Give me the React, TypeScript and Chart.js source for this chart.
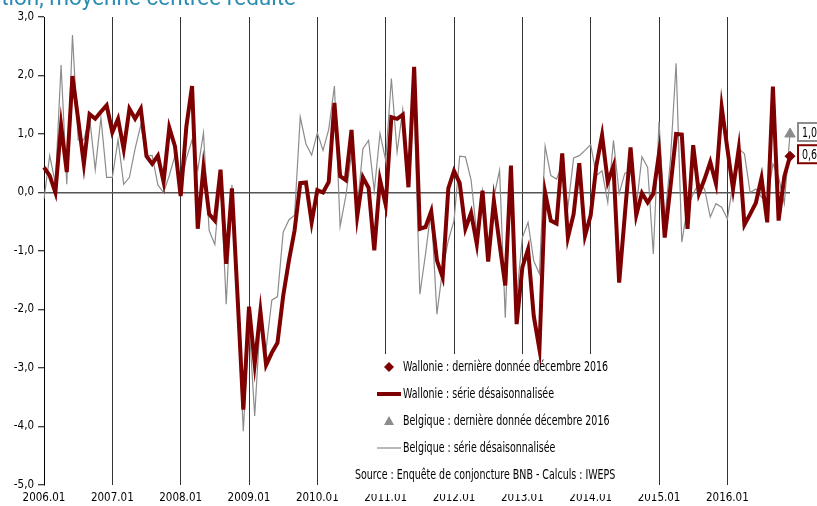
import React, { useEffect, useRef } from 'react';
import { Chart, registerables } from 'chart.js';

Chart.register(...registerables);

const YEARS = [2006, 2007, 2008, 2009, 2010, 2011, 2012, 2013, 2014, 2015, 2016];
const MONTHS = ['01', '02', '03', '04', '05', '06', '07', '08', '09', '10', '11', '12'];
const categories: string[] = YEARS.flatMap((y) => MONTHS.map((m) => `${y}.${m}`));

// Wallonie : série désaisonnalisée
const wallonie = [
  0.43, 0.29, 0.0, 1.15, 0.35, 1.99, 1.25, 0.49, 1.34, 1.26, 1.38, 1.49,
  1.03, 1.26, 0.74, 1.43, 1.26, 1.43, 0.62, 0.49, 0.63, 0.18, 1.11, 0.79,
  -0.06, 1.13, 1.82, -0.62, 0.42, -0.37, -0.48, 0.39, -1.22, 0.07, -1.8, -3.71,
  -1.95, -2.93, -2.03, -2.95, -2.74, -2.57, -1.77, -1.17, -0.65, 0.16, 0.17, -0.51,
  0.04, 0.0, 0.18, 1.53, 0.28, 0.21, 1.07, -0.41, 0.26, 0.08, -0.99, 0.22,
  -0.21, 1.29, 1.26, 1.33, 0.09, 2.15, -0.62, -0.59, -0.32, -1.16, -1.45, 0.07,
  0.37, 0.16, -0.62, -0.35, -0.88, 0.03, -1.18, -0.14, -0.88, -1.59, 0.46, -2.25,
  -1.28, -0.97, -2.11, -2.68, 0.0, -0.48, -0.53, 0.67, -0.77, -0.37, 0.5, -0.74,
  -0.39, 0.46, 0.98, 0.18, 0.45, -1.54, -0.38, 0.77, -0.39, -0.01, -0.17, -0.02,
  0.67, -0.77, 0.09, 1.0, 0.99, -0.62, 0.81, -0.02, 0.23, 0.52, 0.15, 1.46,
  0.75, 0.06, 0.75, -0.55, -0.37, -0.18, 0.25, -0.51, 1.81, -0.48, 0.27, 0.62,
];

// Belgique : série désaisonnalisée
const belgique = [
  -0.11, 0.63, 0.15, 2.18, 0.14, 2.69, 0.9, 0.9, 1.29, 0.39, 1.28, 0.26,
  0.26, 0.9, 0.14, 0.26, 0.75, 1.15, 0.63, 0.63, 0.13, 0.0, 0.29, 0.63,
  0.13, 0.58, 0.9, 0.38, 1.02, -0.65, -0.89, 0.22, -1.91, 0.13, -2.0, -4.08,
  -2.22, -3.82, -2.14, -2.68, -1.84, -1.78, -0.68, -0.47, -0.39, 1.29, 0.83, 0.64,
  1.02, 0.72, 1.08, 1.82, -0.58, -0.06, 0.66, -0.28, 0.75, 0.89, 0.03, 1.01,
  0.55, 1.95, 0.69, 1.42, 0.33, 1.47, -1.74, -1.05, -0.28, -2.08, -1.31, -0.82,
  -0.48, 0.62, 0.61, 0.21, -0.71, 0.03, -0.99, -0.08, 0.38, -2.14, 0.43, -1.79,
  -0.77, -0.51, -1.17, -1.39, 0.79, 0.29, 0.23, 0.46, -0.25, 0.59, 0.63, 0.72,
  0.82, 0.29, 0.37, -0.17, 0.89, -0.02, 0.33, 0.35, -0.25, 0.61, 0.43, -1.05,
  1.21, -0.48, 0.55, 2.21, -0.85, -0.25, -0.02, 0.16, 0.06, -0.42, -0.19, -0.25,
  -0.45, 0.15, 0.75, 0.66, 0.0, 0.06, -0.08, -0.14, 0.49, 0.26, -0.19, 1.0,
];

// Dernière donnée décembre 2016
const wallonieLast = 0.62;
const belgiqueLast = 1.0;

const Y_MIN = -5;
const Y_MAX = 3;

const legendLabels = [
  'Wallonie : dernière donnée décembre 2016',
  'Wallonie : série désaisonnalisée',
  'Belgique : dernière donnée décembre 2016',
  'Belgique : série désaisonnalisée',
];
const sourceText = 'Source : Enquête de conjoncture BNB - Calculs : IWEPS';
const titleText = 'production, moyenne centrée réduite';

const RED = '#7f0000';
const GRAY = '#8c8c8c';
const FONT = "'DejaVu Sans Condensed', 'Liberation Sans', sans-serif";

const fmt = (v: number) => v.toFixed(1).replace('.', ',');

// draw text horizontally condensed (the reference uses a narrow face)
const narrowText = (ctx: any, text: string, x: number, y: number, sx: number) => {
  ctx.save();
  ctx.translate(x, y);
  ctx.scale(sx, 1);
  ctx.fillText(text, 0, 0);
  ctx.restore();
};

const overlayPlugin = {
  id: 'overlay',
  beforeDatasetsDraw(chart: any) {
    const ctx = chart.ctx;
    ctx.save();
    ctx.fillStyle = '#ffffff';
    ctx.fillRect(330, 354, 326, 140);
    ctx.restore();
  },
  afterDraw(chart: any) {
    const ctx = chart.ctx;
    const y = chart.scales.y;
    const area = chart.chartArea;
    ctx.save();

    // cut title at the top
    ctx.fillStyle = '#2b8cb3';
    ctx.font = "22.5px 'Roboto', 'Liberation Sans', sans-serif";
    ctx.textAlign = 'right';
    ctx.textBaseline = 'alphabetic';
    ctx.fillText(titleText, 296, 5);

    // legend
    ctx.font = `13.5px ${FONT}`;
    ctx.textAlign = 'left';
    ctx.textBaseline = 'middle';
    const sx = 205 / ctx.measureText(legendLabels[0]).width;
    const lx = 403;
    const rows = [367, 394, 421, 448];
    // diamond
    ctx.fillStyle = RED;
    ctx.beginPath();
    ctx.moveTo(389, rows[0] - 5);
    ctx.lineTo(394, rows[0]);
    ctx.lineTo(389, rows[0] + 5);
    ctx.lineTo(384, rows[0]);
    ctx.closePath();
    ctx.fill();
    // thick red line
    ctx.strokeStyle = RED;
    ctx.lineWidth = 4;
    ctx.beginPath();
    ctx.moveTo(377, rows[1]);
    ctx.lineTo(401, rows[1]);
    ctx.stroke();
    // triangle
    ctx.fillStyle = GRAY;
    ctx.beginPath();
    ctx.moveTo(389, rows[2] - 5);
    ctx.lineTo(394, rows[2] + 4);
    ctx.lineTo(384, rows[2] + 4);
    ctx.closePath();
    ctx.fill();
    // thin gray line
    ctx.strokeStyle = GRAY;
    ctx.lineWidth = 1.2;
    ctx.beginPath();
    ctx.moveTo(377, rows[3]);
    ctx.lineTo(401, rows[3]);
    ctx.stroke();

    ctx.fillStyle = '#000';
    legendLabels.forEach((t, i) => narrowText(ctx, t, lx, rows[i], sx));
    narrowText(ctx, sourceText, 355, 475, sx);

    // value boxes at right
    const boxes = [
      { v: belgiqueLast, c: GRAY },
      { v: wallonieLast, c: RED },
    ];
    boxes.forEach((b) => {
      const py = y.getPixelForValue(b.v) - 2;
      const bx = area.right + 8;
      ctx.fillStyle = '#fff';
      ctx.fillRect(bx, py - 9, 40, 18);
      ctx.strokeStyle = b.c;
      ctx.lineWidth = 2;
      ctx.strokeRect(bx, py - 9, 40, 18);
      ctx.fillStyle = '#000';
      ctx.font = `13.5px ${FONT}`;
      ctx.textAlign = 'left';
      ctx.textBaseline = 'middle';
      narrowText(ctx, fmt(b.v), bx + 4, py + 1, sx);
    });
    ctx.restore();
  },
};

export default function App() {
  const ref = useRef<HTMLCanvasElement | null>(null);

  useEffect(() => {
    if (!ref.current) return;
    const n = categories.length;
    const lastOnly = (v: number) => categories.map((_, i) => (i === n - 1 ? v : null));
    const chart = new Chart(ref.current, {
      type: 'line',
      data: {
        labels: categories,
        datasets: [
          {
            label: legendLabels[0],
            data: lastOnly(wallonieLast),
            showLine: false,
            pointStyle: 'rectRot',
            pointRadius: 5,
            pointBackgroundColor: RED,
            pointBorderColor: RED,
            borderColor: RED,
          },
          {
            label: legendLabels[1],
            data: wallonie,
            borderColor: RED,
            borderWidth: 4,
            pointRadius: 0,
            tension: 0,
            fill: false,
          },
          {
            label: legendLabels[2],
            data: lastOnly(belgiqueLast),
            showLine: false,
            pointStyle: 'triangle',
            pointRadius: 6,
            pointBackgroundColor: GRAY,
            pointBorderColor: GRAY,
            borderColor: GRAY,
          },
          {
            label: legendLabels[3],
            data: belgique,
            borderColor: GRAY,
            borderWidth: 1.2,
            pointRadius: 0,
            tension: 0,
            fill: false,
          },
        ],
      },
      options: {
        responsive: false,
        animation: false,
        layout: { padding: { top: 17, right: 27, left: 0, bottom: 0 } },
        plugins: {
          legend: { display: false },
          tooltip: { enabled: false },
        },
        scales: {
          x: {
            type: 'category',
            ticks: {
              autoSkip: false,
              maxRotation: 0,
              minRotation: 0,
              padding: 6,
              color: '#000',
              font: { family: FONT, size: 11.5 },
              callback: (_v: any, i: number) => (i % 12 === 0 ? categories[i] : ''),
            },
            grid: {
              color: (c: any) => (c.index % 12 === 0 && c.index > 0 ? '#333333' : 'rgba(0,0,0,0)'),
              lineWidth: 1,
              drawTicks: false,
            },
            border: { display: false },
            afterFit: (s: any) => {
              s.height = 21;
            },
          },
          y: {
            min: Y_MIN,
            max: Y_MAX,
            ticks: {
              stepSize: 1,
              padding: 4,
              color: '#000',
              font: { family: FONT, size: 11.5 },
              callback: (v: any) => fmt(Number(v)),
            },
            grid: {
              color: (c: any) => (c.tick && c.tick.value === 0 ? '#555555' : 'rgba(0,0,0,0)'),
              lineWidth: 1.5,
              drawTicks: true,
              tickLength: 6,
              tickColor: '#000',
              tickWidth: 1,
            },
            border: { display: true, color: '#000', width: 1 },
            afterFit: (s: any) => {
              s.width = 44;
            },
          },
        },
      },
      plugins: [overlayPlugin],
    });
    return () => chart.destroy();
  }, []);

  return (
    <div style={{ position: 'fixed', left: 0, top: 0, width: 817, height: 506, background: '#fff' }}>
      <canvas ref={ref} width={817} height={506} style={{ display: 'block' }} />
    </div>
  );
}
